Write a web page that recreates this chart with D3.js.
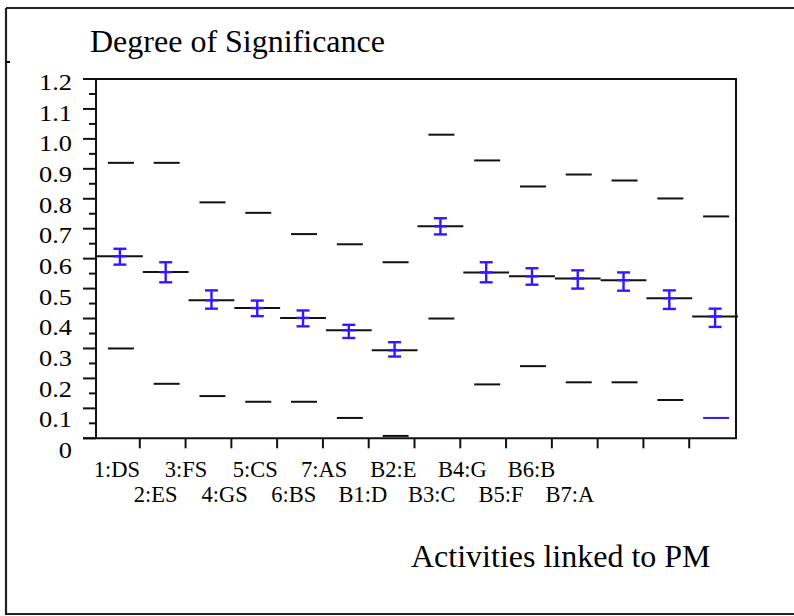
<!DOCTYPE html>
<html><head><meta charset="utf-8">
<script src="https://cdn.jsdelivr.net/npm/d3@7"></script>
<style>body{margin:0;background:#fff}svg{display:block}text{font-family:"Liberation Serif","Times New Roman",serif;fill:#000}</style>
</head><body>
<svg id="c" width="794" height="616"></svg>
<script>
const categories = ["1:DS","2:ES","3:FS","4:GS","5:CS","6:BS","7:AS","B1:D","B2:E","B3:C","B4:G","B5:F","B6:B","B7:A"];
const means   = [0.608,0.555,0.461,0.435,0.402,0.361,0.294,0.708,0.554,0.541,0.534,0.528,0.468,0.407];
const errLow  = [0.580,0.521,0.433,0.408,0.374,0.335,0.273,0.681,0.521,0.513,0.500,0.493,0.432,0.372];
const errHigh = [0.633,0.588,0.494,0.460,0.427,0.379,0.321,0.735,0.588,0.568,0.561,0.554,0.494,0.433];
const upperVals = [0.920,0.920,0.788,0.753,0.682,0.648,0.588,1.014,0.928,0.841,0.881,0.861,0.801,0.741];
const lowerVals = [0.300,0.182,0.141,0.122,0.122,0.068,0.008,0.400,0.180,0.241,0.187,0.187,0.128,0.068];
const yTickValues = [0,0.1,0.2,0.3,0.4,0.5,0.6,0.7,0.8,0.9,1.0,1.1,1.2];
const yTickLabels = ["0","0.1","0.2","0.3","0.4","0.5","0.6","0.7","0.8","0.9","1.0","1.1","1.2"];
const yMinorTicks = [0.05,0.15,0.25,0.35,0.45,0.55,0.65,0.75,0.85,0.95,1.05,1.15];
const titleText = "Degree of Significance";
const xTitleText = "Activities linked to PM";

const svg = d3.select("#c");
const L = 96, R = 736, T = 79, B = 438.3;
const blue = "#3318ff";

const y = d3.scaleLinear().domain([0,1.2]).range([B, T]);
const x = d3.scaleBand().domain(categories).range([97, 738]).padding(0);
const bw = x.bandwidth();
const yLab = d3.scaleLinear().domain([0,1.2]).range([458, 90]);
const xLab = d3.scalePoint().domain(categories).range([117, 566]);

// outer frame (left, top, bottom)
svg.append("path").attr("d", "M6,8 L6,614 L794,614 M6,8 L794,8")
  .attr("fill","none").attr("stroke","#222").attr("stroke-width",2.2);
svg.append("line").attr("x1",6).attr("x2",10).attr("y1",62).attr("y2",62).attr("stroke","#000").attr("stroke-width",2);

// titles
svg.append("text").attr("x",90).attr("y",52).attr("font-size",32).text(titleText);
svg.append("text").attr("x",411).attr("y",567).attr("font-size",32).text(xTitleText);

// plot frame
svg.append("path").attr("d", `M${L},${B} L${L},${T} L${R},${T} L${R},${B} L83,${B}`)
  .attr("fill","none").attr("stroke","#111").attr("stroke-width",2);

// y ticks
svg.selectAll(".ymaj").data(yTickValues).join("line")
  .attr("x1",83).attr("x2",L).attr("y1",d=>y(d)).attr("y2",d=>y(d))
  .attr("stroke","#111").attr("stroke-width",2);
svg.selectAll(".ymin").data(yMinorTicks).join("line")
  .attr("x1",89).attr("x2",L).attr("y1",d=>y(d)).attr("y2",d=>y(d))
  .attr("stroke","#111").attr("stroke-width",2);
svg.selectAll(".ylab").data(yTickValues).join("text")
  .attr("transform",d=>`translate(72,${yLab(d)}) scale(1.1,1)`)
  .attr("text-anchor","end").attr("font-size",24)
  .text((d,i)=>yTickLabels[i]);

// x ticks at category boundaries
svg.selectAll(".xt").data(categories.slice(0,-1)).join("line")
  .attr("x1",d=>x(d)+bw-3).attr("x2",d=>x(d)+bw-3).attr("y1",B).attr("y2",B+10)
  .attr("stroke","#111").attr("stroke-width",2);
svg.selectAll(".xlab").data(categories).join("text")
  .attr("x",(d,i)=>xLab(d) + (i%2 ? 4 : 0))
  .attr("y",(d,i)=> i%2 ? 502 : 477)
  .attr("text-anchor","middle").attr("font-size",22.5).text(d=>d);

// mean lines
svg.selectAll(".mean").data(categories).join("line")
  .attr("x1",d=>x(d)).attr("x2",d=>x(d)+bw)
  .attr("y1",(d,i)=>y(means[i])).attr("y2",(d,i)=>y(means[i]))
  .attr("stroke","#111").attr("stroke-width",2);
// upper / lower dashes
const cx = d => x(d) + bw/2;
svg.selectAll(".up").data(categories).join("line")
  .attr("x1",d=>cx(d)-12).attr("x2",d=>cx(d)+14)
  .attr("y1",(d,i)=>y(upperVals[i])).attr("y2",(d,i)=>y(upperVals[i]))
  .attr("stroke","#111").attr("stroke-width",2);
svg.selectAll(".lo").data(categories).join("line")
  .attr("x1",d=>cx(d)-12).attr("x2",d=>cx(d)+14)
  .attr("y1",(d,i)=>y(lowerVals[i])).attr("y2",(d,i)=>y(lowerVals[i]))
  .attr("stroke",(d,i)=> i===categories.length-1 ? blue : "#111").attr("stroke-width",2);

// error bars
const eb = svg.selectAll(".eb").data(categories).join("g").attr("stroke",blue).attr("stroke-width",2.4);
eb.append("line").attr("x1",cx).attr("x2",cx)
  .attr("y1",(d,i)=>y(errLow[i])).attr("y2",(d,i)=>y(errHigh[i]));
eb.append("line").attr("x1",d=>cx(d)-6.5).attr("x2",d=>cx(d)+6.5)
  .attr("y1",(d,i)=>y(errLow[i])).attr("y2",(d,i)=>y(errLow[i]));
eb.append("line").attr("x1",d=>cx(d)-6.5).attr("x2",d=>cx(d)+6.5)
  .attr("y1",(d,i)=>y(errHigh[i])).attr("y2",(d,i)=>y(errHigh[i]));
eb.append("line").attr("x1",d=>cx(d)-6.5).attr("x2",d=>cx(d)+6.5)
  .attr("y1",(d,i)=>y(means[i])).attr("y2",(d,i)=>y(means[i]));
</script>
</body></html>
